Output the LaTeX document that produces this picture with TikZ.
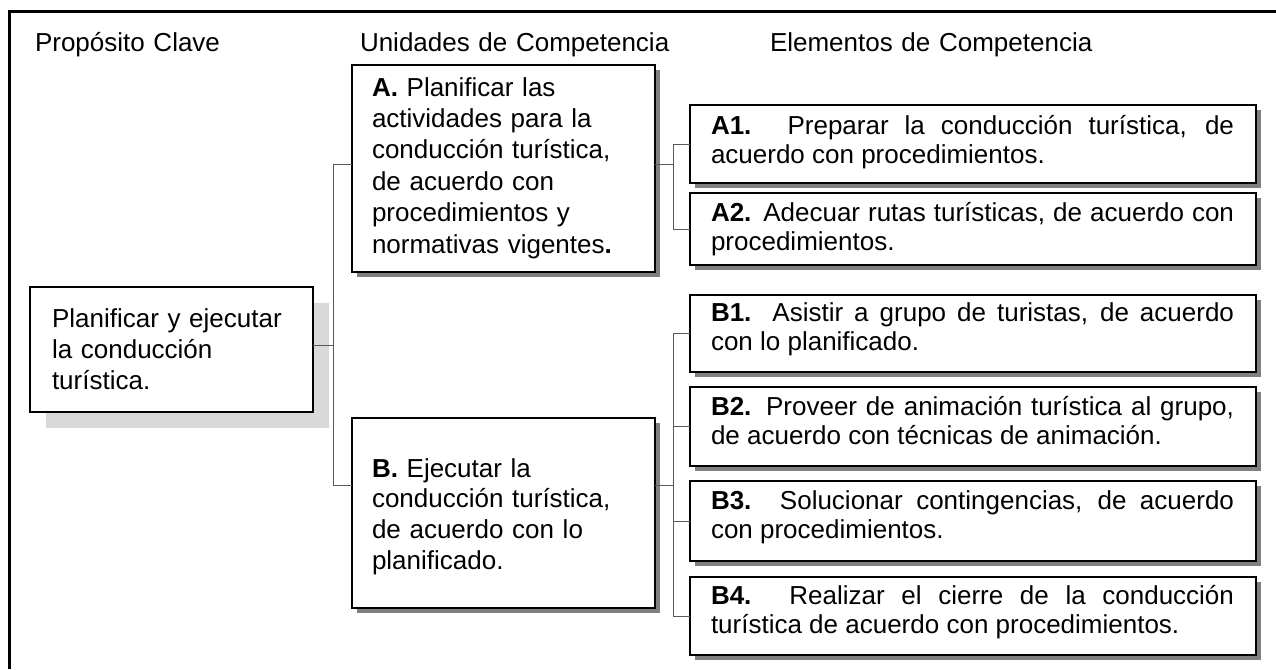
\documentclass[tikz,border=0pt]{standalone}
\usepackage{fontspec}
\setmainfont{Liberation Sans}
\usetikzlibrary{shadows}
\tikzset{
  box/.style={draw, line width=2.5pt, fill=white, inner sep=0pt, outer sep=0pt,
    drop shadow={shadow xshift=5pt, shadow yshift=-5pt, fill=black!50, opacity=1}},
  pcbox/.style={draw, line width=2.5pt, fill=white, inner sep=0pt, outer sep=0pt,
    drop shadow={shadow xshift=16pt, shadow yshift=-16pt, fill=black!15, opacity=1}},
  elem/.style={box, minimum width=566pt},
  unit/.style={box, minimum width=303pt},
  txt/.style={inner sep=0pt, outer sep=0pt, font=\fontsize{26}{30.5}\selectfont},
  etxt/.style={txt, font=\fontsize{26}{29.5}\selectfont, text width=523pt, align=justify, anchor=base west},
  ltxt/.style={txt, text width=280pt, align=left, anchor=base west},
  conn/.style={draw=black!65, line width=1pt},
  frame/.style={line width=3pt}
}
\begin{document}
\begin{tikzpicture}[x=1pt, y=-1pt]
\useasboundingbox (0,0) rectangle (1276,669);
\fill[white] (0,0) rectangle (1276,669);
\draw[frame] (9.5,669) -- (9.5,11.5) -- (1276,11.5);

% headers
\node[ltxt, text width=300pt] (h1) at (35,52) {Propósito Clave};
\node[ltxt, text width=340pt] (h2) at (360,52) {Unidades de Competencia};
\node[ltxt, text width=340pt] (h3) at (770,52) {Elementos de Competencia};

% connector junctions
\coordinate (j1) at (333,345);
\coordinate (jA) at (333,164);
\coordinate (jB) at (333,485);
\coordinate (kA) at (673,164);
\coordinate (kB) at (673,485);

% boxes
\node[pcbox, minimum width=283pt, minimum height=125pt] (PC) at (171.5,349.5) {};
\node[unit, minimum height=207pt] (A) at (503.5,168.5) {};
\node[unit, minimum height=190pt] (B) at (503.5,513) {};
\node[elem, minimum height=78pt] (A1) at (973,144) {};
\node[elem, minimum height=72pt] (A2) at (973,229) {};
\node[elem, minimum height=77pt] (B1) at (973,333.5) {};
\node[elem, minimum height=79pt] (B2) at (973,426.5) {};
\node[elem, minimum height=80pt] (B3) at (973,521) {};
\node[elem, minimum height=78pt] (B4) at (973,616) {};

% connectors
\draw[conn] (PC.east |- j1) -- (j1);
\draw[conn] (A.west |- jA) -- (jA) -- (jB) -- (B.west |- jB);
\draw[conn] (A.east |- kA) -- (kA);
\draw[conn] (A1.west) -| (kA);
\draw[conn] (A2.west) -| (kA);
\draw[conn] (B.east |- kB) -- (kB);
\draw[conn] (B1.west) -| (kB);
\draw[conn] (B4.west) -| (kB);
\draw[conn] (B2.west) -- (B2.west -| kB);
\draw[conn] (B3.west) -- (B3.west -| kB);

% texts
\node[ltxt, font=\fontsize{26}{31}\selectfont] (tPC) at (52,327) {Planificar y ejecutar\\la conducción\\turística.};
\node[ltxt, font=\fontsize{26}{31.4}\selectfont] (tA) at (372,96) {\textbf{A.} Planificar las\\actividades para la\\conducción turística,\\de acuerdo con\\procedimientos y\\normativas vigentes\textbf{.}};
\node[ltxt, font=\fontsize{26}{30.7}\selectfont] (tB) at (372,477) {\textbf{B.} Ejecutar la\\conducción turística,\\de acuerdo con lo\\planificado.};
\node[etxt] (tA1) at (711,134) {\textbf{A1.} Preparar la conducción turística, de\linebreak acuerdo con procedimientos.};
\node[etxt] (tA2) at (711,221) {\textbf{A2.} Adecuar rutas turísticas, de acuerdo con\linebreak procedimientos.};
\node[etxt] (tB1) at (711,321) {\textbf{B1.} Asistir a grupo de turistas, de acuerdo\linebreak con lo planificado.};
\node[etxt] (tB2) at (711,415) {\textbf{B2.} Proveer de animación turística al grupo,\linebreak de acuerdo con técnicas de animación.};
\node[etxt] (tB3) at (711,509) {\textbf{B3.} Solucionar contingencias, de acuerdo\linebreak con procedimientos.};
\node[etxt] (tB4) at (711,604) {\textbf{B4.} Realizar el cierre de la conducción\linebreak turística de acuerdo con procedimientos.};
\end{tikzpicture}
\end{document}
